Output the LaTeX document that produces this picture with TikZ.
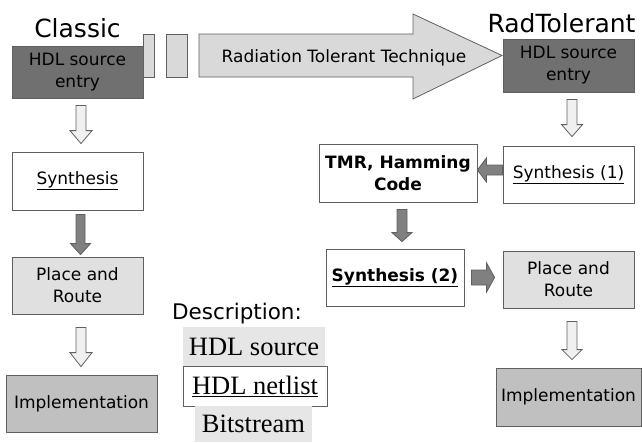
\documentclass[tikz,border=0pt]{standalone}
\usepackage{fontspec}
\setmainfont{DejaVu Sans}
\newfontfamily\legendserif{Liberation Serif}
\usetikzlibrary{calc}
\definecolor{bordergray}{RGB}{96,96,96}
\definecolor{darkbox}{RGB}{112,112,112}
\definecolor{lightbox}{RGB}{224,224,224}
\definecolor{midbox}{RGB}{192,192,192}
\definecolor{bandgray}{RGB}{217,217,217}
\definecolor{whitearrow}{RGB}{240,240,240}
\definecolor{darkarrow}{RGB}{128,128,128}
\definecolor{legendgray}{RGB}{230,230,230}
\tikzset{
  boxbase/.style={draw=bordergray, line width=0.8pt, inner sep=0pt, align=center,
    font=\fontsize{17}{22}\selectfont},
  darkstep/.style={boxbase, fill=darkbox},
  lightstep/.style={boxbase, fill=lightbox},
  midstep/.style={boxbase, fill=midbox},
  whitestep/.style={boxbase, fill=white},
  legendbox/.style={inner sep=0pt, align=center, font=\legendserif\fontsize{26.5}{30}\selectfont},
  titletext/.style={inner sep=0pt, font=\fontsize{25}{30}\selectfont},
  lightarr/.style={draw=bordergray, line width=0.8pt, fill=whitearrow, line join=miter},
  darkarr/.style={draw=bordergray, line width=0.8pt, fill=darkarrow, line join=miter},
  bandshape/.style={draw=bordergray, line width=0.8pt, fill=bandgray},
}
% vertical block arrow: style, from, to, shaft half width, head half width, head length
\newcommand\vblockarrow[6]{%
  \draw[#1] let \p1=#2, \p2=#3, \n1={(\y2>\y1)?-1:1} in
    (\x1-#4pt,\y1) -- (\x1+#4pt,\y1) -- (\x1+#4pt,\y2+\n1*#6pt) -- (\x1+#5pt,\y2+\n1*#6pt)
    -- (\x1,\y2) -- (\x1-#5pt,\y2+\n1*#6pt) -- (\x1-#4pt,\y2+\n1*#6pt) -- cycle;}
% horizontal block arrow
\newcommand\hblockarrow[6]{%
  \draw[#1] let \p1=#2, \p2=#3, \n1={(\x2>\x1)?-1:1} in
    (\x1,\y1-#4pt) -- (\x1,\y1+#4pt) -- (\x2+\n1*#6pt,\y1+#4pt) -- (\x2+\n1*#6pt,\y1+#5pt)
    -- (\x2,\y1) -- (\x2+\n1*#6pt,\y1-#5pt) -- (\x2+\n1*#6pt,\y1-#4pt) -- cycle;}
\begin{document}
\begin{tikzpicture}[x=1pt,y=-1pt]
\useasboundingbox (0,0) rectangle (642,442);

% titles
\node[titletext, anchor=base] (classic) at (77.5,37) {Classic};
\node[titletext, anchor=base] (radtol) at (561.5,32) {RadTolerant};

% radiation tolerant band
\draw[bandshape] (143,34) rectangle (154,77);
\draw[bandshape] (166,34) rectangle (187,77);
\draw[bandshape] (199,34) -- (413,34) -- (413,14) -- (502,55.5) -- (413,99) -- (413,77) -- (199,77) -- cycle;
\node[inner sep=0pt, anchor=base, font=\fontsize{17}{22}\selectfont] (rtt) at (344,62) {Radiation Tolerant Technique};

% classic flow
\node[darkstep, minimum width=131pt, minimum height=52pt] (hdlL) at (77.5,72) {HDL source\\entry};
\node[whitestep, minimum width=131pt, minimum height=58pt] (synL) at (77.5,181) {\underline{Synthesis}};
\node[lightstep, minimum width=131pt, minimum height=57pt] (prL) at (77.5,285.5) {Place and\\Route};
\node[midstep, minimum width=151pt, minimum height=57pt] (implL) at (81.5,403.5) {Implementation};

% radtolerant flow
\node[darkstep, minimum width=131pt, minimum height=53pt] (hdlR) at (568.5,65.5) {HDL source\\entry};
\node[whitestep, minimum width=131pt, minimum height=57pt] (syn1) at (568.5,174.5) {\underline{Synthesis (1)}};
\node[whitestep, minimum width=158pt, minimum height=58pt, font=\bfseries\fontsize{17}{22}\selectfont] (tmr) at (398,173) {TMR, Hamming\\Code};
\node[whitestep, minimum width=138pt, minimum height=57pt, font=\bfseries\fontsize{17}{22}\selectfont] (syn2) at (395,277.5) {\underline{Synthesis (2)}};
\node[lightstep, minimum width=131pt, minimum height=57pt] (prR) at (568.5,279.5) {Place and\\Route};
\node[midstep, minimum width=145pt, minimum height=58pt] (implR) at (568.5,397) {Implementation};

% legend
\node[inner sep=0pt, anchor=base, font=\fontsize{21.5}{26}\selectfont] (desc) at (237,319) {Description:};
\node[legendbox, fill=legendgray, minimum width=142pt, minimum height=39pt] (lsrc) at (254,346.5) {HDL source};
\node[legendbox, fill=white, draw=bordergray, line width=0.8pt, minimum width=144pt, minimum height=40pt] (lnet) at (255,386) {\underline{HDL netlist}};
\node[legendbox, fill=legendgray, minimum width=117pt, minimum height=36pt] (lbit) at (253.5,424) {Bitstream};

% classic arrows
\vblockarrow{lightarr}{($(hdlL.south)+(3.5,7)$)}{($(synL.north)+(3.5,-8)$)}{5}{11}{13}
\vblockarrow{darkarr}{($(synL.south)+(3,4)$)}{($(prL.north)+(3,-2)$)}{4.5}{10}{11}
\vblockarrow{lightarr}{($(prL.south)+(3.5,13)$)}{($(implL.north)+(0,-8)$)}{5}{11}{14}

% radtolerant arrows
\vblockarrow{lightarr}{($(hdlR.south)+(3.5,7)$)}{($(syn1.north)+(3.5,-9)$)}{5}{10.5}{12}
\hblockarrow{darkarr}{($(syn1.west)+(0,-4.5)$)}{($(tmr.east)+(0,-3)$)}{5}{12}{9}
\vblockarrow{darkarr}{($(tmr.south)+(4,7)$)}{($(syn2.north)+(7,-7)$)}{5}{10}{9}
\hblockarrow{darkarr}{($(syn2.east)+(7,0)$)}{($(prR.west)+(-8,-2)$)}{7.5}{14.5}{8}
\vblockarrow{lightarr}{($(prR.south)+(3.5,13)$)}{($(implR.north)+(3.5,-8)$)}{5}{10}{10}
\end{tikzpicture}
\end{document}
